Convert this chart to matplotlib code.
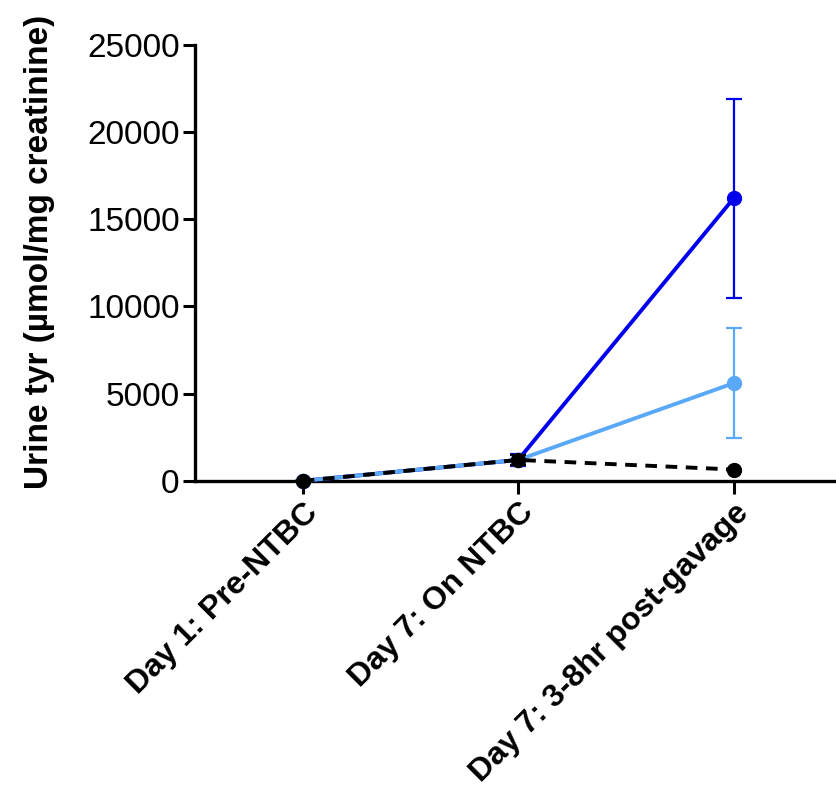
import matplotlib
matplotlib.use("Agg")
import matplotlib.pyplot as plt

categories = ["Day 1: Pre-NTBC", "Day 7: On NTBC", "Day 7: 3-8hr post-gavage"]
dark_mean = [0, 1200, 16200]
dark_err = [0, 350, 5700]
light_mean = [0, 1200, 5600]
light_err = [0, 300, 3150]
black_mean = [0, 1200, 650]
black_err = [0, 300, 0]

yticks = [0, 5000, 10000, 15000, 20000, 25000]

plt.rcParams["font.family"] = ["Liberation Sans", "DejaVu Sans"]

fig = plt.figure(figsize=(8.37, 7.87), dpi=100)
ax = fig.add_axes([0.233, 0.389, 0.767, 0.554])

x = list(range(len(categories)))

ax.errorbar(x, dark_mean, yerr=dark_err, color="#0000EE", lw=2.8, marker="o",
            ms=10, elinewidth=1.6, capsize=6, capthick=1.6, zorder=3)
ax.errorbar(x, light_mean, yerr=light_err, color="#5AA8F8", lw=2.8, marker="o",
            ms=10, elinewidth=1.6, capsize=6, capthick=1.6, zorder=4)
ax.errorbar(x, black_mean, yerr=black_err, color="black", lw=2.8, ls=(0, (3, 2.2)),
            marker="o", ms=10, elinewidth=1.6, capsize=6, capthick=1.6, zorder=5)

ax.set_xlim(-0.5, 2.48)
ax.set_ylim(0, 25000)
ax.set_yticks(yticks)
ax.set_yticklabels([str(t) for t in yticks], fontsize=24)
ax.set_xticks(x)
ax.set_xticklabels(categories, rotation=45, ha="right", rotation_mode="anchor",
                   fontsize=23, fontweight="bold")

for side in ("top", "right"):
    ax.spines[side].set_visible(False)
for side in ("left", "bottom"):
    ax.spines[side].set_linewidth(2.4)
ax.tick_params(axis="both", direction="out", length=9, width=2.2, pad=2)
ax.tick_params(axis="x", pad=3)

ax.set_ylabel("Urine tyr (\u00b5mol/mg creatinine)", fontsize=24, fontweight="bold")
ax.yaxis.set_label_coords(-0.218, 0.525)

for m in ax.get_lines():
    m.set_clip_on(False)

fig.savefig("out.png", dpi=100)
